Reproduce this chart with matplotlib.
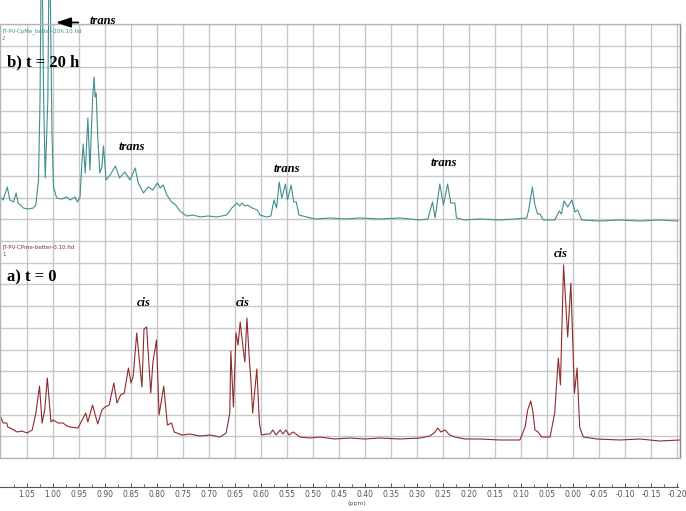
import matplotlib
matplotlib.use("Agg")
import matplotlib.pyplot as plt
import numpy as np

plt.rcParams["axes.unicode_minus"] = False

# traced spectra: chemical shift (ppm) and intensity above each baseline (arb.)
ppm_20h = [1.102, 1.096, 1.088, 1.083, 1.076, 1.071, 1.067, 1.057, 1.048, 1.038,
           1.033, 1.028, 1.025, 1.022, 1.018, 1.015, 1.010, 1.007, 1.002, 0.999,
           0.993, 0.983, 0.974, 0.967, 0.958, 0.953, 0.948, 0.945, 0.942, 0.938,
           0.933, 0.929, 0.924, 0.921, 0.919, 0.917, 0.914, 0.910, 0.906, 0.903,
           0.898, 0.890, 0.880, 0.872, 0.862, 0.852, 0.842, 0.836, 0.826, 0.817,
           0.808, 0.799, 0.794, 0.788, 0.781, 0.772, 0.764, 0.756, 0.743, 0.731,
           0.717, 0.702, 0.685, 0.666, 0.656, 0.652, 0.646, 0.641, 0.636, 0.631,
           0.626, 0.617, 0.607, 0.602, 0.589, 0.581, 0.575, 0.570, 0.565, 0.560,
           0.553, 0.549, 0.542, 0.537, 0.532, 0.527, 0.512, 0.496, 0.467, 0.438,
           0.410, 0.371, 0.333, 0.294, 0.279, 0.270, 0.265, 0.256, 0.249, 0.241,
           0.235, 0.227, 0.224, 0.208, 0.179, 0.140, 0.112, 0.089, 0.085, 0.078,
           0.073, 0.068, 0.063, 0.057, 0.035, 0.026, 0.022, 0.017, 0.010, 0.002,
           -0.004, -0.009, -0.017, -0.052, -0.090, -0.129, -0.167, -0.202]
int_20h = [23, 20, 33, 20, 18, 27, 17, 12, 11, 12,
           15, 40, 120, 300, 120, 42, 120, 300, 87, 33,
           22, 21, 23, 20, 23, 18, 23, 53, 76, 47,
           102, 50, 120, 143, 123, 127, 83, 47, 53, 74,
           40, 45, 54, 42, 48, 40, 52, 37, 27, 33,
           30, 37, 32, 35, 25, 18, 15, 9, 4, 5,
           3, 4, 3, 5, 12, 14, 17, 14, 17, 14,
           15, 12, 10, 5, 3, 4, 20, 12, 38, 22,
           36, 20, 35, 18, 18, 5, 3, 1, 2, 1,
           2, 1, 2, 0, 1, 18, 2, 36, 15, 36,
           17, 17, 2, 0, 1, 0, 1, 2, 10, 33,
           15, 6, 6, 0, 0, 9, 6, 19, 13, 20,
           8, 10, 0, -1, 0, -1, 0, -1]

ppm_0h = [1.102, 1.096, 1.089, 1.087, 1.079, 1.069, 1.060, 1.050, 1.040, 1.033,
          1.026, 1.021, 1.016, 1.011, 1.004, 1.000, 0.990, 0.981, 0.973, 0.967,
          0.952, 0.944, 0.937, 0.933, 0.924, 0.914, 0.906, 0.900, 0.892, 0.883,
          0.877, 0.870, 0.863, 0.855, 0.850, 0.846, 0.839, 0.829, 0.825, 0.820,
          0.812, 0.808, 0.801, 0.796, 0.787, 0.780, 0.772, 0.767, 0.752, 0.737,
          0.717, 0.698, 0.679, 0.667, 0.660, 0.658, 0.653, 0.648, 0.644, 0.640,
          0.634, 0.631, 0.627, 0.622, 0.620, 0.616, 0.608, 0.603, 0.599, 0.589,
          0.583, 0.577, 0.571, 0.563, 0.558, 0.552, 0.546, 0.538, 0.525, 0.506,
          0.487, 0.458, 0.429, 0.400, 0.371, 0.333, 0.294, 0.275, 0.265, 0.260,
          0.254, 0.246, 0.237, 0.227, 0.208, 0.179, 0.140, 0.102, 0.092, 0.087,
          0.081, 0.077, 0.073, 0.067, 0.060, 0.044, 0.035, 0.028, 0.024, 0.018,
          0.010, 0.004, -0.003, -0.008, -0.013, -0.020, -0.046, -0.090, -0.129,
          -0.167, -0.206]
int_0h = [23, 15, 15, 11, 9, 6, 7, 5, 8, 25,
          52, 15, 28, 60, 16, 18, 15, 15, 12, 11,
          10, 18, 25, 16, 33, 14, 28, 31, 33, 55,
          35, 43, 45, 70, 55, 61, 105, 51, 109, 111,
          45, 75, 98, 23, 52, 13, 15, 6, 3, 4,
          2, 3, 1, 5, 25, 87, 31, 105, 93, 116,
          88, 76, 120, 75, 63, 25, 69, 15, 3, 4,
          4, 8, 3, 8, 4, 8, 3, 6, 1, 0,
          1, -1, 0, -1, 0, -1, 0, 2, 6, 10,
          6, 8, 3, 1, -1, -1, -2, -2, 11, 28,
          37, 26, 8, 6, 1, 1, 25, 80, 53, 173,
          101, 155, 45, 70, 11, 1, -1, -2, -1,
          -3, -2]

tick_ppm = [1.05, 1.00, 0.95, 0.90, 0.85, 0.80, 0.75, 0.70, 0.65, 0.60, 0.55,
            0.50, 0.45, 0.40, 0.35, 0.30, 0.25, 0.20, 0.15, 0.10, 0.05, 0.00,
            -0.05, -0.10, -0.15, -0.20]

TEAL = "#3f8f8c"
RED = "#8e2b2e"
W, H = 686, 511
XLIM = (1.102, -0.206)
YTOP = 434
TOP_BASE, BOT_BASE = 238, 20

fig = plt.figure(figsize=(W / 100, H / 100), dpi=100)
ax = fig.add_axes([0, 53 / H, 680 / W, YTOP / H])
ax.set_xlim(*XLIM)
ax.set_ylim(0, YTOP)
ax.set_xticks(np.arange(-0.20, 1.06, 0.05))
ax.set_yticks(np.linspace(0, YTOP, 21))
ax.grid(True, color="#c8c8c8", linewidth=1.0)
ax.tick_params(length=0, labelbottom=False, labelleft=False)
for side, sp in ax.spines.items():
    sp.set_color("#b5b5b5")
    sp.set_linewidth(1.0)
ax.spines["right"].set_color("#8a8a8a")

ax.plot(ppm_20h, np.array(int_20h) + TOP_BASE, color=TEAL, lw=0.8, clip_on=False)
ax.plot(ppm_0h, np.array(int_0h) + BOT_BASE, color=RED, lw=0.8)

# file labels
ax.text(1.098, 430, "JT-PV-CpMe_better-20h.10.fid\n2", color=TEAL, fontsize=4,
        va="top", ha="left", linespacing=1.6)
ax.text(1.098, 213, "JT-PV-CPme-better-0.10.fid\n1", color=RED, fontsize=4,
        va="top", ha="left", linespacing=1.6)

serif = "Liberation Serif"
ax.text(1.088, 396, "b) t = 20 h", family=serif, weight="bold", fontsize=12, va="center")
ax.text(1.088, 181, "a) t = 0", family=serif, weight="bold", fontsize=12, va="center")

lab = dict(family=serif, weight="bold", style="italic", fontsize=9, ha="center", va="center")
ax.text(0.848, 311, "trans", **lab)
ax.text(0.550, 289, "trans", **lab)
ax.text(0.248, 295, "trans", **lab)
ax.text(0.825, 155, "cis", **lab)
ax.text(0.635, 155, "cis", **lab)
ax.text(0.023, 204, "cis", **lab)

ax.annotate("", xy=(1.0, 435.5), xytext=(0.946, 435.5), annotation_clip=False,
            arrowprops=dict(arrowstyle="-|>,head_length=0.9,head_width=0.3",
                            color="black", lw=1.3))
ax.text(0.904, 437, "trans", clip_on=False, **lab)

# ppm scale
sc = fig.add_axes([0, 24 / H, 678 / W, 0.001])
sc.set_xlim(XLIM[0], XLIM[1] + 0.004)
sc.set_yticks([])
for s in ("top", "left", "right"):
    sc.spines[s].set_visible(False)
sc.spines["bottom"].set_color("#555555")
sc.spines["bottom"].set_linewidth(0.8)
sc.set_xticks(tick_ppm)
sc.set_xticklabels([f"{t:.2f}" for t in tick_ppm])
sc.set_xticks(np.arange(-0.175, 1.10, 0.05), minor=True)
sc.tick_params(axis="x", which="major", direction="in", length=3, width=0.7,
               colors="#555555", labelsize=5.5, pad=2)
sc.tick_params(axis="x", which="minor", direction="in", length=2, width=0.6,
               colors="#555555")
fig.text(347 / W, 1 - 504 / H, "(ppm)", fontsize=4.5, color="#555555", va="center")

fig.savefig("out.png", dpi=100)
